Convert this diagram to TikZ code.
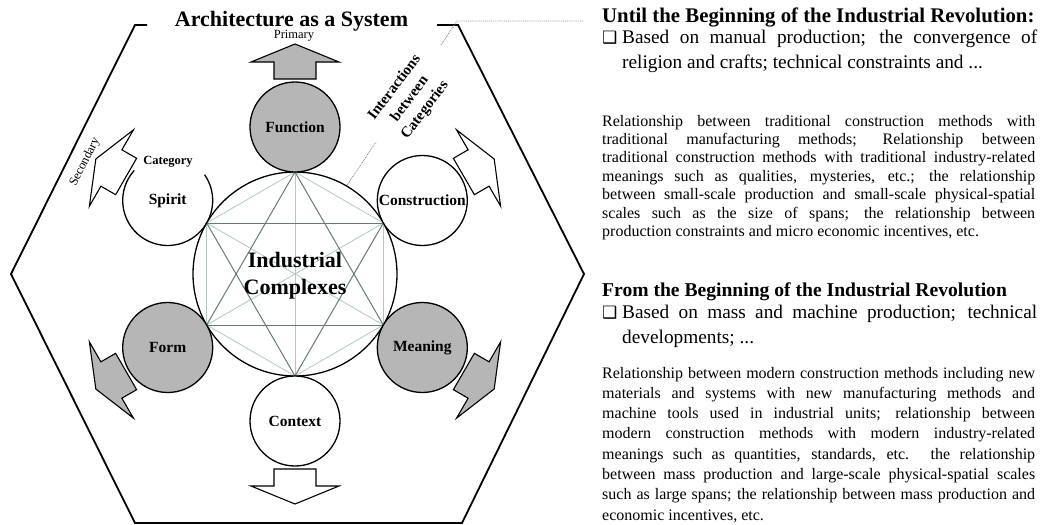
\documentclass[tikz,border=0pt]{standalone}
\usepackage{fontspec}
\setmainfont{Liberation Serif}
\newfontfamily\dvs{DejaVu Sans}
\definecolor{cgray}{RGB}{182,182,182}
\definecolor{starc}{RGB}{105,122,118}
\definecolor{lightc}{RGB}{178,200,196}
\definecolor{leadc}{RGB}{140,140,140}
\newcommand\jl[1]{\makebox[433pt][s]{#1}}
\newcommand\bx{\makebox[20pt][l]{\dvs\fontsize{17}{17}\selectfont ❑}}
\begin{document}
\begin{tikzpicture}[x=1pt,y=-1pt,
  hexline/.style={line width=1.8pt, line join=miter},
  circnode/.style={circle, minimum size=90pt, inner sep=0pt, outer sep=0pt, line width=1.3pt,
     font=\bfseries\fontsize{15.5}{18}\selectfont},
  grayc/.style={circnode, draw, fill=cgray},
  whitec/.style={circnode, draw, fill=white},
  barrow/.style={line width=1.1pt, line join=miter},
  starline/.style={starc, line width=1pt},
  lightline/.style={lightc, line width=0.8pt},
  leader/.style={leadc, densely dotted, line width=0.9pt},
  hd/.style={anchor=base west, inner sep=0pt, font=\bfseries\fontsize{20.8}{24}\selectfont},
  bl/.style={anchor=base west, inner sep=0pt, font=\fontsize{19.3}{23}\selectfont},
  pa/.style={anchor=base west, inner sep=0pt, font=\fontsize{16}{19}\selectfont},
  small/.style={inner sep=0pt, font=\fontsize{12.5}{14}\selectfont}
]
\fill[white] (0,0) rectangle (1042,525);
\useasboundingbox (0,0) rectangle (1042,525);

% outer hexagon
\draw[hexline] (147,25) -- (135,25) -- (11,274) -- (135,523) -- (462,523) -- (584,274) -- (458,25) -- (437,25);
\node[inner sep=0pt, anchor=base, font=\bfseries\fontsize{22}{26}\selectfont] (title) at (291.5,26) {Architecture as a System};

% leader line
\coordinate (l0) at (325,218);
\coordinate (l1) at (376,142);
\coordinate (l2) at (441,45);
\coordinate (l3) at (457,21);
\coordinate (l4) at (583,21);
\draw[leader] (l0) -- (l1);
\draw[leader] (l2) -- (l3) -- (l4);
\node[inner sep=0pt, rotate=53, align=center, font=\bfseries\fontsize{15}{19}\selectfont] (inter) at (410,99) {Interactions\\between\\Categories};

% central circle
\node[circle, draw, line width=1.3pt, minimum size=204pt, inner sep=0pt, outer sep=0pt, fill=white] (ic) at (295,274) {};
\foreach \a/\b in {90/30,30/330,330/270,270/210,210/150,150/90,90/270,30/210,150/330}
  \draw[lightline] (ic.\a) -- (ic.\b);
\foreach \a/\b in {90/330,330/210,210/90,270/30,30/150,150/270}
  \draw[starline] (ic.\a) -- (ic.\b);
\node[align=center, inner sep=0pt, font=\bfseries\fontsize{22}{27}\selectfont] (ictext) at (295,276) {Industrial\\Complexes};

% category circles
\node[grayc] (fn) at (295,127) {Function};
\node[whitec] (co) at (422.3,200.5) {Construction};
\node[grayc] (me) at (422.3,347.5) {Meaning};
\node[whitec] (cx) at (295,421) {Context};
\node[grayc] (fo) at (167.7,347.5) {Form};
\node[circnode] (sp) at (167.7,200.5) {Spirit};
\draw[line width=1.3pt] (sp.138) arc[start angle=138, end angle=395, radius=45pt];
\node[small, font=\bfseries\fontsize{12.5}{14}\selectfont] (cat) at (168,162) {Category};

% block arrows
\foreach \n/\ang/\col in {fn/90/cgray, co/30/white, me/-30/cgray, cx/-90/white, fo/210/cgray, sp/150/white}{
  \begin{scope}[shift={(\n.center)}, rotate=\ang]
    \draw[barrow, fill=\col] (48,21) -- (65,21) -- (65,44) -- (83,0) -- (65,-44) -- (65,-21) -- (48,-21) -- cycle;
  \end{scope}
}
\node[small] (prim) at (294,36) {Primary};
\node[small, rotate=63.4] (sec) at (85,162) {Secondary};

% right column, block 1
\node[hd] (h1) at (602,22) {Until the Beginning of the Industrial Revolution:};
\node[bl] (b1a) at (602,43) {\bx\makebox[415pt][s]{Based on manual production; the convergence of}};
\node[bl] (b1b) at (622,68) {religion and crafts; technical constraints and ...};
\node[pa] (p1a) at (602,126) {\jl{Relationship between traditional construction methods with}};
\node[pa] (p1b) at (602,144.4) {\jl{traditional manufacturing methods; Relationship between}};
\node[pa] (p1c) at (602,162.8) {\jl{traditional construction methods with traditional industry-related}};
\node[pa] (p1d) at (602,181.2) {\jl{meanings such as qualities, mysteries, etc.; the relationship}};
\node[pa] (p1e) at (602,199.6) {\jl{between small-scale production and small-scale physical-spatial}};
\node[pa] (p1f) at (602,218) {\jl{scales such as the size of spans; the relationship between}};
\node[pa] (p1g) at (602,236.4) {production constraints and micro economic incentives, etc.};

% right column, block 2
\node[hd, font=\bfseries\fontsize{19.6}{24}\selectfont] (h2) at (602,296) {From the Beginning of the Industrial Revolution};
\node[bl] (b2a) at (602,318) {\bx\makebox[415pt][s]{Based on mass and machine production; technical}};
\node[bl] (b2b) at (622,343) {developments; ...};
\node[pa] (p2a) at (602,378) {\jl{Relationship between modern construction methods including new}};
\node[pa] (p2b) at (602,398.3) {\jl{materials and systems with new manufacturing methods and}};
\node[pa] (p2c) at (602,418.6) {\jl{machine tools used in industrial units; relationship between}};
\node[pa] (p2d) at (602,438.9) {\jl{modern construction methods with modern industry-related}};
\node[pa] (p2e) at (602,459.2) {\jl{meanings such as quantities, standards, etc. the relationship}};
\node[pa] (p2f) at (602,479.5) {\jl{between mass production and large-scale physical-spatial scales}};
\node[pa] (p2g) at (602,499.8) {\jl{such as large spans; the relationship between mass production and}};
\node[pa] (p2h) at (602,520) {economic incentives, etc.};
\end{tikzpicture}
\end{document}
